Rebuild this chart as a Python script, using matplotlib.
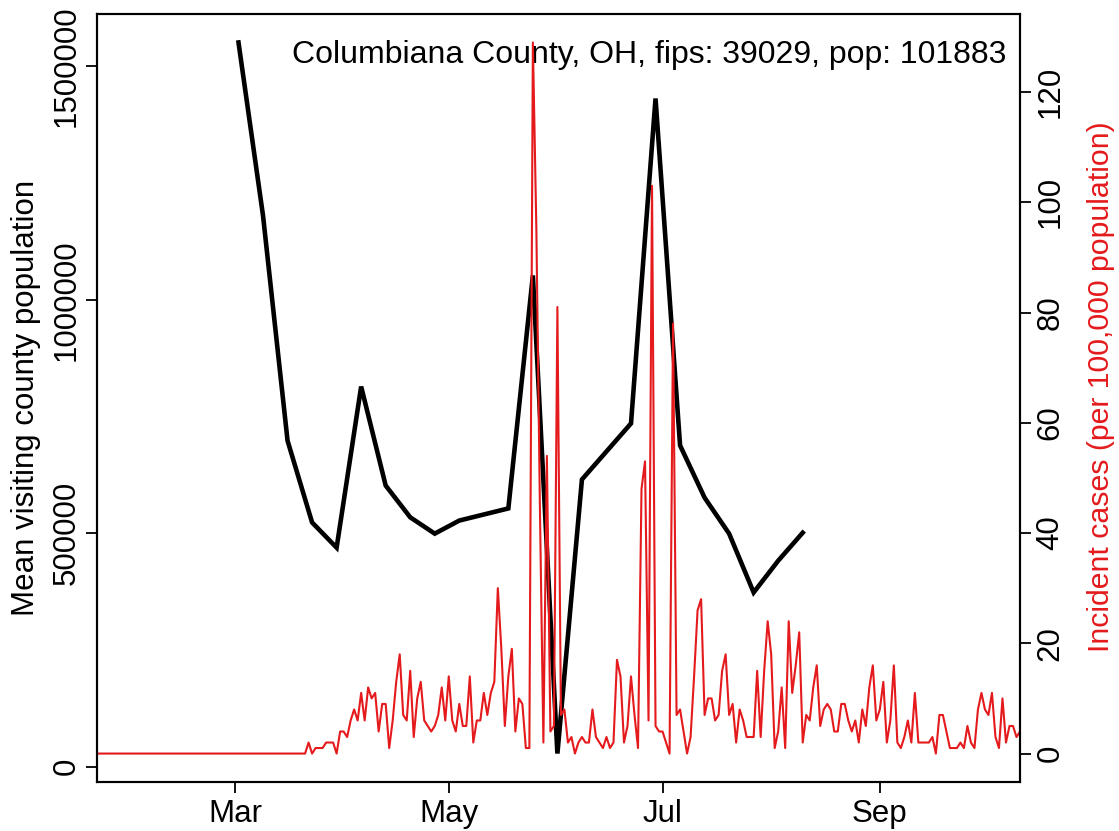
import matplotlib
matplotlib.use('Agg')
import matplotlib.pyplot as plt
import pandas as pd

plt.rcParams['font.family'] = ['Liberation Sans', 'DejaVu Sans']

# weekly mean visiting population (Mondays from 2020-03-02)
week_start = '2020-03-02'
visitors = [1551000, 1180000, 698000, 523000, 469000, 814000, 602000, 534000,
            499000, 527000, 540000, 553000, 1052000, 28000, 615000, 675000,
            735000, 1431000, 688000, 576000, 499000, 373000, 441000, 501000]

# daily incident cases per 100,000 (from 2020-01-22)
case_start = '2020-01-22'
cases = [0, 0, 0, 0, 0, 0, 0, 0, 0, 0, 0, 0, 0, 0, 0, 0, 0, 0, 0, 0,
         0, 0, 0, 0, 0, 0, 0, 0, 0, 0, 0, 0, 0, 0, 0, 0, 0, 0, 0, 0,
         0, 0, 0, 0, 0, 0, 0, 0, 0, 0, 0, 0, 0, 0, 0, 0, 0, 0, 0, 0,
         2, 0, 1, 1, 1, 2, 2, 2, 0,
         4, 4, 3, 6, 8, 6, 11, 6, 12, 10, 11,
         4, 9, 9, 1, 6, 13, 18, 7, 6, 15,
         3, 10, 13, 6, 5, 4, 5, 7, 12, 6,
         14, 6, 4, 9, 5, 5, 14, 2, 6, 6,
         11, 7, 11, 13, 30, 19, 5, 14, 19, 4,
         10, 9, 1, 1, 129, 95, 45, 2, 54, 4,
         5, 81, 7, 8, 2, 3, 0, 2, 3, 2,
         2, 8, 3, 2, 1, 3, 1, 2, 17, 14,
         2, 5, 14, 7, 1, 48, 53, 6, 103, 5,
         4, 4, 2, 0, 78, 7, 8, 4, 0, 3,
         14, 26, 28,
         7, 10, 10, 6, 7, 15, 18, 7, 9, 2, 8, 6, 3, 3, 3, 15, 3, 15, 24, 18,
         1, 4, 12, 1, 24, 11, 16, 22, 2, 7, 6, 12, 16, 5, 8, 9, 8, 4, 4, 9,
         9, 6, 4, 6, 2, 8, 5, 12, 16, 6, 8, 13, 2, 6, 16, 2, 1,
         3, 6, 2, 11, 2, 2, 2, 2, 3, 0, 7, 7, 4, 1, 1, 1, 2, 1, 5, 2,
         1, 8, 11, 8, 7, 11, 3, 1, 10, 2, 5, 5, 3, 4]

month_ticks = ['2020-03-01', '2020-05-01', '2020-07-01', '2020-09-01']
month_labels = ['Mar', 'May', 'Jul', 'Sep']
left_ticks = [0, 500000, 1000000, 1500000]
right_ticks = [0, 20, 40, 60, 80, 100, 120]
title = 'Columbiana County, OH, fips: 39029, pop: 101883'

red = '#E41A1C'
fs = 22.5

week_dates = pd.date_range(week_start, periods=len(visitors), freq='7D')
case_dates = pd.date_range(case_start, periods=len(cases), freq='D')

fig = plt.figure(figsize=(11.19, 8.31), dpi=100)
ax = fig.add_axes([97 / 1119, 1 - 782 / 831, 923 / 1119, 768 / 831])
ax2 = ax.twinx()

ax.plot(week_dates, visitors, color='black', lw=3.3, solid_joinstyle='miter')
ax2.plot(case_dates, cases, color=red, lw=1.5)

# R style 4% padding
lo, hi = min(visitors), max(visitors)
ax.set_ylim(lo - 0.04 * (hi - lo), hi + 0.04 * (hi - lo))
lo, hi = 0, max(cases)
ax2.set_ylim(lo - 0.04 * (hi - lo), hi + 0.04 * (hi - lo))
ax.set_xlim(pd.Timestamp('2020-01-21 15:00'), pd.Timestamp('2020-10-11'))

ax.set_xticks(pd.to_datetime(month_ticks))
ax.set_xticklabels(month_labels)
ax.set_yticks(left_ticks)
ax.set_yticklabels([str(v) for v in left_ticks], rotation=90, va='center')
ax2.set_yticks(right_ticks)
ax2.set_yticklabels([str(v) for v in right_ticks], rotation=90, va='center')

for a in (ax, ax2):
    a.tick_params(direction='out', length=8, width=1.3, labelsize=fs, pad=3)
    for s in a.spines.values():
        s.set_linewidth(1.5)
ax.tick_params(axis='x', pad=4)

ax.set_ylabel('Mean visiting county population', fontsize=fs, labelpad=8)
ax2.set_ylabel('Incident cases (per 100,000 population)', fontsize=21.8,
               color=red, rotation=90)
ax2.yaxis.set_label_coords(1.073, 0.515)

ax.text(0.985, 0.947, title, transform=ax.transAxes, ha='right', va='center',
        fontsize=23)

fig.savefig('out.png', dpi=100)
